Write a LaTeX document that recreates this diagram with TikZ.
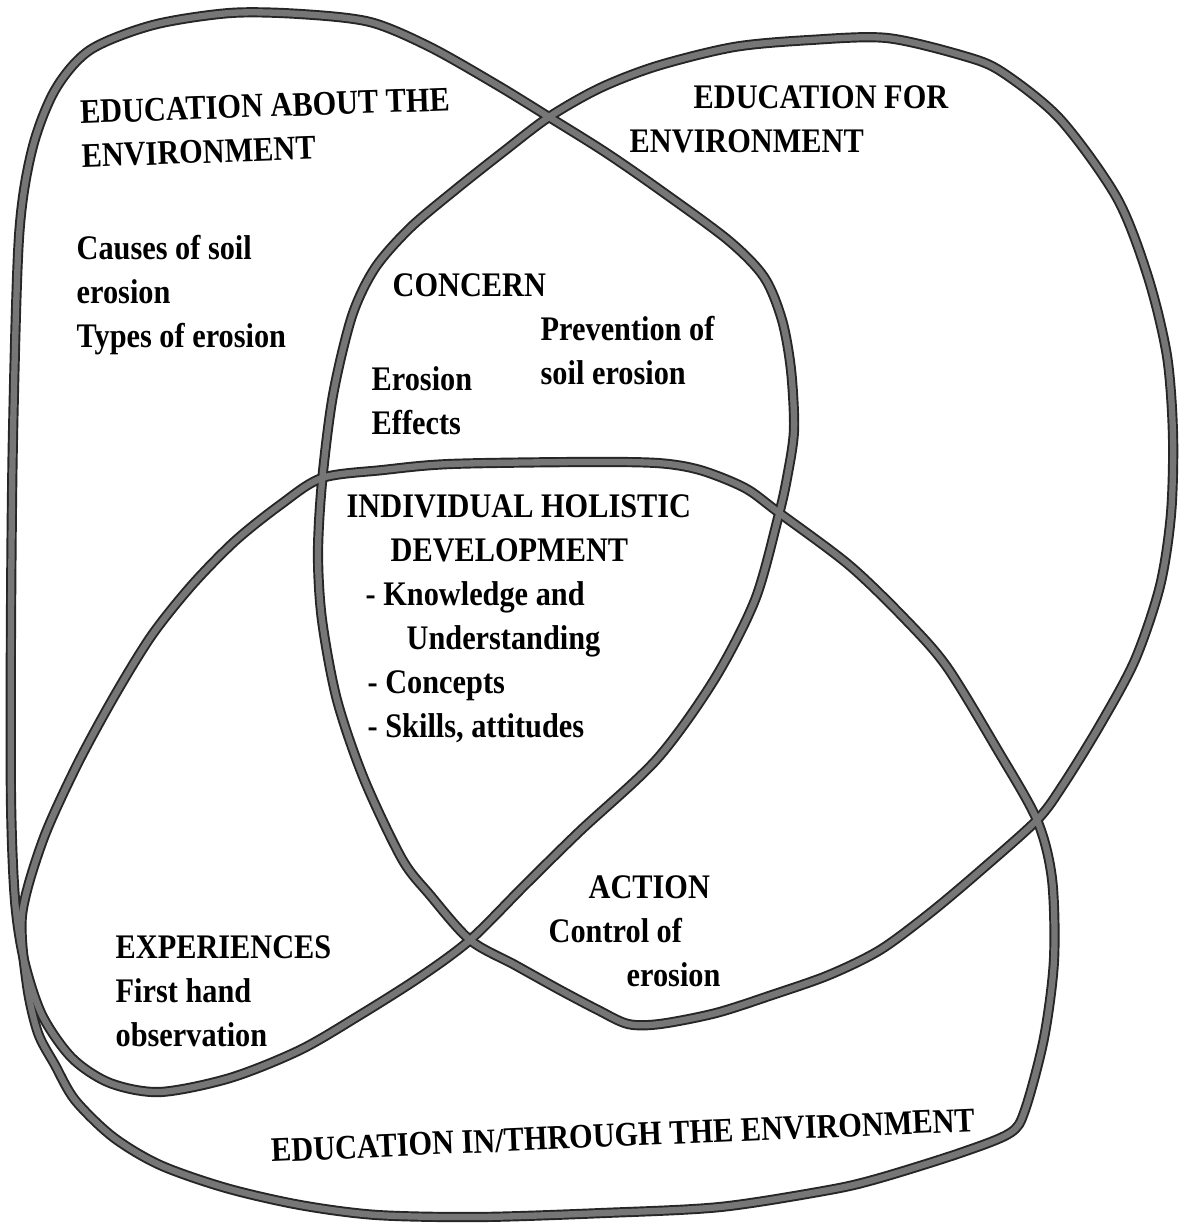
\documentclass[tikz,border=0pt]{standalone}
\usepackage{fontspec}
\setmainfont{Liberation Serif}[FakeStretch=0.88]
\definecolor{RimGrey}{RGB}{38,38,38}
\definecolor{CoreGrey}{RGB}{118,118,118}

\begin{document}
\begin{tikzpicture}[
    x=0.1mm, y=-0.1mm,
    every node/.style={font=\bfseries\fontsize{9.8}{12.5}\selectfont, align=left, inner sep=0pt},
    rim/.style={draw=RimGrey, line width=2.9pt, line join=round},
    core/.style={draw=CoreGrey, line width=1.8pt, line join=round}
]
\def\aboutloop{plot[smooth cycle] coordinates {
    (549,117) (605,152) (660,190) (728,240) (764,277) (782,320) (791,370)
    (794,430) (787,478) (778,518) (755,600) (714,680) (657,759) (580,831)
    (525,885) (470,940) (420,977) (360,1015) (300,1050) (230,1078) (160,1092)
    (110,1083) (72,1058) (42,1015) (24,960) (15,900) (11,800) (11,620)
    (13,435) (19,237) (32,150) (55,90) (90,50) (153,25) (230,13) (300,14)
    (370,22) (430,47) (497,85)}}
\def\forloop{plot[smooth cycle] coordinates {
    (549,117) (600,88) (657,66) (734,47) (810,40) (887,38) (964,56)
    (1002,72) (1060,119) (1117,198) (1148,277) (1167,356) (1173,435)
    (1171,514) (1160,586) (1135,660) (1100,725) (1063,785) (1037,820)
    (980,871) (930,913) (880,950) (829,975) (772,995) (716,1013) (660,1024)
    (628,1024) (598,1010) (560,990) (515,965) (470,940) (430,895) (402,859)
    (364,779) (337,700) (322,620) (318,554) (322,482) (333,395) (352,316)
    (375,268) (410,228) (455,190) (503,152)}}
\def\inloop{plot[smooth cycle] coordinates {
    (22,915) (43,840) (77,765) (115,695) (152,635) (192,585) (235,541)
    (280,505) (322,478) (383,470) (450,464) (580,462) (657,463) (700,470)
    (745,488) (778,512) (849,565) (906,620) (947,667) (997,749) (1037,820)
    (1052,879) (1054,960) (1044,1038) (1025,1110) (1010,1133) (960,1153)
    (880,1178) (829,1190) (720,1207) (603,1213) (480,1217) (377,1215)
    (300,1205) (226,1188) (160,1165) (113,1137) (75,1100) (55,1065)
    (38,1033) (27,985)}}

\fill[white] (0,0) rectangle (1182,1225);
\useasboundingbox (0,0) rectangle (1182,1225);

\draw[rim] \aboutloop;
\draw[rim] \forloop;
\draw[rim] \inloop;
\draw[core] \aboutloop;
\draw[core] \forloop;
\draw[core] \inloop;

\node[anchor=north west, rotate=2] (abouthead) at (79,100) {EDUCATION ABOUT THE\\ENVIRONMENT};
\node[anchor=north west] (forhead) at (629,85) {\hspace*{6.4mm}EDUCATION FOR\\ENVIRONMENT};
\node[anchor=north west] (aboutnote) at (76,235) {Causes of soil\\erosion\\Types of erosion};
\node[anchor=north west] (concern) at (392,273) {CONCERN};
\node[anchor=north west] (prevention) at (540,316) {Prevention of\\soil erosion};
\node[anchor=north west] (effects) at (371,366) {Erosion\\Effects};
\node[anchor=north west] (holistic) at (346,494) {INDIVIDUAL HOLISTIC\\
    \hspace*{4.4mm}DEVELOPMENT\\
    \hspace*{1.9mm}- Knowledge and\\
    \hspace*{6.0mm}Understanding\\
    \hspace*{2.1mm}- Concepts\\
    \hspace*{2.1mm}- Skills, attitudes};
\node[anchor=north west] (action) at (548,875) {\hspace*{4.0mm}ACTION\\Control of\\\hspace*{7.8mm}erosion};
\node[anchor=north west] (experiences) at (115,935) {EXPERIENCES\\First hand\\observation};
\node[anchor=base west, rotate=2.5] (inhead) at (271,1162) {EDUCATION IN/THROUGH THE ENVIRONMENT};
\end{tikzpicture}
\end{document}
